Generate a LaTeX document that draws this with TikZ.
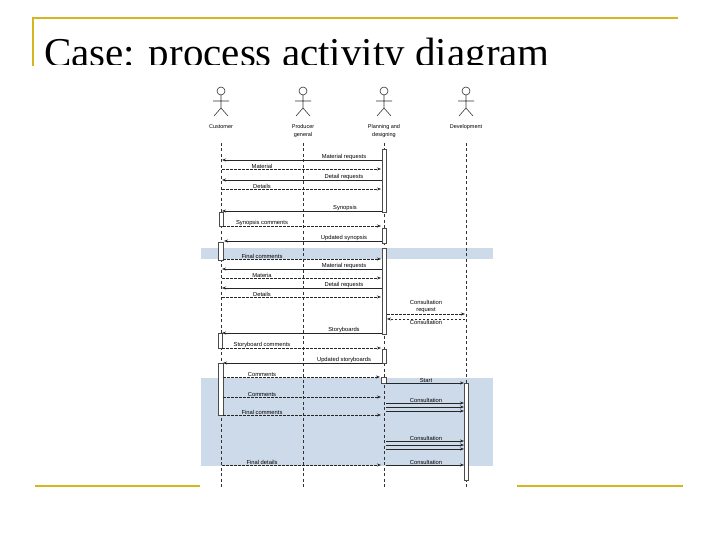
\documentclass[tikz,border=0pt]{standalone}
\usepackage{fontspec}
\setmainfont{Liberation Serif}
\newfontfamily\lbl{Liberation Sans}
\usetikzlibrary{arrows.meta}
\definecolor{gold}{RGB}{214,182,30}
\definecolor{band}{RGB}{205,218,234}
\newcounter{mc}
\tikzset{
 lab/.style={font=\lbl\fontsize{5.8}{6}\selectfont,inner sep=0.5pt,anchor=south},
 sol/.style={draw=black!85,line width=0.8pt,-{Stealth[length=4pt,width=3pt]}},
 dsh/.style={draw=black!85,line width=0.7pt,dash pattern=on 2.5pt off 1.5pt,-{Stealth[length=4pt,width=3pt]}},
 life/.style={draw=black!80,line width=0.7pt,dash pattern=on 3pt off 2.5pt},
 act/.style={draw=black!70,fill=white,line width=0.5pt},
 goldline/.style={draw=gold,line width=2.5pt},
 actor/.style={draw=black!80,line width=0.6pt}
}
\newcommand{\msgline}[6]{\stepcounter{mc}%
 \coordinate (s\themc) at (#2,#1); \coordinate (e\themc) at (#3,#1);
 \draw[#4] (s\themc) -- (e\themc);
 \node[lab] (l\themc) at (#6,#1) {#5};}
\newcommand{\actorfig}[4]{%
 \draw[actor] (#1,#2) circle (4);
 \draw[actor] (#1,#2+4) -- (#1,#2+17) (#1-8,#2+10) -- (#1+8,#2+10) (#1-7,#2+25) -- (#1,#2+17) -- (#1+7,#2+25);
 \node[font=\lbl\fontsize{5.5}{7.5}\selectfont,align=center,anchor=north] (#4) at (#1,#2+30) {#3};}
\begin{document}
\begin{tikzpicture}[x=1pt,y=-1pt]
\useasboundingbox (0,0) rectangle (720,540);
\fill[white] (0,0) rectangle (720,540);
\draw[goldline] (32,18) -- (678,18);
\draw[goldline] (33,17) -- (33,66);
\draw[goldline] (35,486) -- (200,486);
\draw[goldline] (517,486) -- (683,486);
\begin{scope}
\clip (0,0) rectangle (720,65);
\node[anchor=base west,inner sep=0,font=\fontsize{41}{44}\selectfont] (title) at (44,67) {Case: process activity diagram};
\end{scope}
\fill[band] (201,248) rectangle (493,259);
\fill[band] (201,378) rectangle (493,466);
\actorfig{221}{91}{Customer}{cu}
\actorfig{303}{91}{Producer\\general}{pg}
\actorfig{384}{91}{Planning and\\designing}{pd}
\actorfig{466}{91}{Development}{dv}
\foreach \x/\n in {221/a,303/b,384/c,466/d}{
 \coordinate (lt\n) at (\x,143); \coordinate (lb\n) at (\x,487);
 \draw[life] (lt\n) -- (lb\n);}
\draw[act] (382,149) rectangle (386,212);
\draw[act] (382,228) rectangle (386,243);
\draw[act] (382,248) rectangle (386,334);
\draw[act] (382,349) rectangle (386,363);
\draw[act] (381,377) rectangle (386,383);
\draw[act] (219,212) rectangle (223,226);
\draw[act] (218,242) rectangle (223,260);
\draw[act] (218,333) rectangle (222,348);
\draw[act] (218,363) rectangle (223,415);
\draw[act] (464,383) rectangle (468,480);
\msgline{160}{382}{222}{sol}{Material requests}{344}
\msgline{169}{222}{381}{dsh}{Material}{262}
\msgline{180}{382}{222}{sol}{Detail requests}{344}
\msgline{189}{222}{381}{dsh}{Details}{262}
\msgline{211}{382}{222}{sol}{Synopsis}{345}
\msgline{226}{223}{381}{dsh}{Synopsis comments}{262}
\msgline{241}{382}{224}{sol}{Updated synopsis}{344}
\msgline{259}{223}{381}{dsh}{Final comments}{262}
\msgline{269}{382}{222}{sol}{Material requests}{344}
\msgline{278}{222}{381}{dsh}{Materia}{262}
\msgline{288}{382}{222}{sol}{Detail requests}{344}
\msgline{297}{222}{381}{dsh}{Details}{262}
\msgline{314}{387}{465}{dsh}{}{426}
\node[font=\lbl\fontsize{5.8}{6.5}\selectfont,align=center,anchor=south,inner sep=0.5pt] (cr) at (426,313) {Consultation\\request};
\msgline{319}{465}{387}{dsh}{}{426}
\node[lab,anchor=north] (co) at (426,320) {Consultation};
\msgline{333}{382}{222}{sol}{Storyboards}{344}
\msgline{348}{222}{381}{dsh}{Storyboard comments}{262}
\msgline{363}{382}{223}{sol}{Updated storyboards}{344}
\msgline{377}{223}{380}{dsh}{Comments}{262}
\msgline{383}{386}{464}{sol}{Start}{426}
\msgline{397}{223}{381}{dsh}{Comments}{262}
\msgline{403}{386}{464}{sol}{Consultation}{426}
\msgline{407}{386}{464}{sol}{}{426}
\msgline{411}{386}{464}{sol}{}{426}
\msgline{415}{223}{381}{dsh}{Final comments}{262}
\msgline{441}{386}{464}{sol}{Consultation}{426}
\msgline{445}{386}{464}{sol}{}{426}
\msgline{449}{386}{464}{sol}{}{426}
\msgline{465}{222}{381}{dsh}{Final details}{262}
\msgline{465}{386}{464}{sol}{Consultation}{426}
\end{tikzpicture}
\end{document}
